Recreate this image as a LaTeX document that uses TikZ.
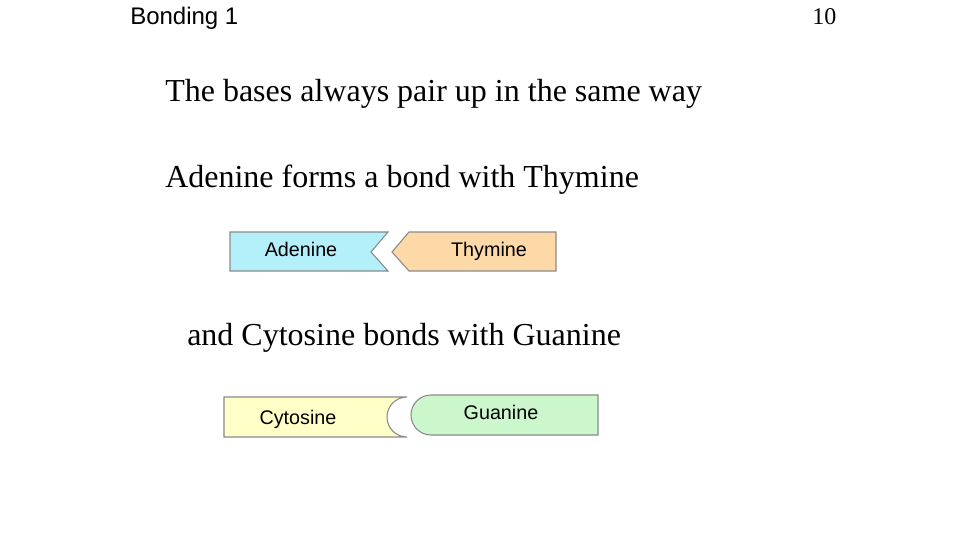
\documentclass[tikz,border=0pt]{standalone}
\usepackage{fontspec}
\setmainfont{Liberation Serif}
\newfontfamily\arialfont{Liberation Sans}
\definecolor{adeninefill}{HTML}{B3F0FA}
\definecolor{thyminefill}{HTML}{FDD9A8}
\definecolor{cytosinefill}{HTML}{FFFFC8}
\definecolor{guaninefill}{HTML}{CCF7CC}
\definecolor{baseedge}{HTML}{8A8A8A}

\begin{document}
\begin{tikzpicture}[x=0.75pt,y=-0.75pt,
  slidetext/.style={anchor=base west,inner sep=0pt,font=\fontsize{24}{28}\selectfont},
  basebox/.style={draw=baseedge,line width=0.8pt,line join=miter},
  baselabel/.style={anchor=base,inner sep=0pt,font=\arialfont\fontsize{14.8}{17}\selectfont}]

\useasboundingbox[fill=white](0,0)rectangle(960,540);

\node[anchor=base west,inner sep=0pt,font=\arialfont\fontsize{18}{21}\selectfont](title)at(130,24){Bonding 1};
\node[anchor=base west,inner sep=0pt,font=\fontsize{18}{21}\selectfont](pagenum)at(812,24){10};

\node[slidetext](line1)at(165,101){The bases always pair up in the same way};
\node[slidetext](line2)at(165,187){Adenine forms a bond with Thymine};
\node[slidetext](line3)at(187,345){and Cytosine bonds with Guanine};

% A -- T pair
\draw[basebox,fill=adeninefill](230,232)--(388,232)--(371,252)--(388,271)--(230,271)--cycle;
\draw[basebox,fill=thyminefill](392,252)--(409,232)--(556,232)--(556,271)--(409,271)--cycle;
\node[baselabel](adenine)at(301,256){Adenine};
\node[baselabel](thymine)at(489,256){Thymine};

% C -- G pair
\draw[basebox,fill=cytosinefill](224,397)--(407,397)arc(270:90:20)--(224,437)--cycle;
\draw[basebox,fill=guaninefill](431,395)--(598,395)--(598,435)--(431,435)arc(90:270:20)--cycle;
\node[baselabel](cytosine)at(298,424){Cytosine};
\node[baselabel](guanine)at(501,419){Guanine};

\end{tikzpicture}
\end{document}
